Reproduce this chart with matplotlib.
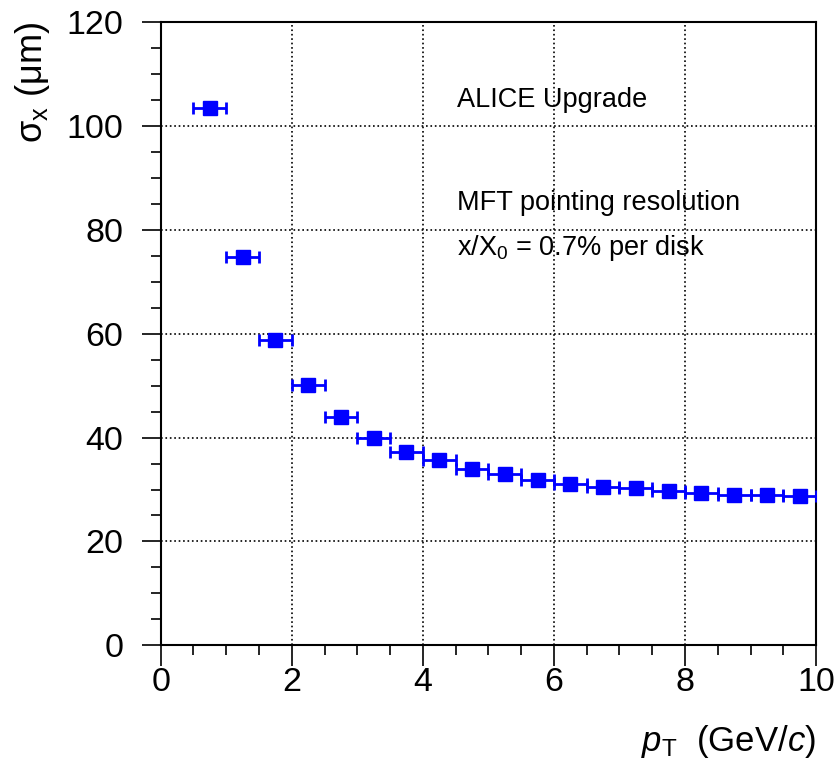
import numpy as np
import matplotlib
matplotlib.use('Agg')
import matplotlib.pyplot as plt
from matplotlib.ticker import MultipleLocator

plt.rcParams['font.family'] = ['Liberation Sans', 'DejaVu Sans']
plt.rcParams['mathtext.fontset'] = 'custom'
plt.rcParams['mathtext.rm'] = 'Liberation Sans'
plt.rcParams['mathtext.it'] = 'Liberation Sans:italic'

# pT bin centres (GeV/c) and half widths
pt = [0.75, 1.25, 1.75, 2.25, 2.75, 3.25, 3.75, 4.25, 4.75, 5.25,
      5.75, 6.25, 6.75, 7.25, 7.75, 8.25, 8.75, 9.25, 9.75]
pt_err = [0.25] * len(pt)
# pointing resolution sigma_x (um)
sigma_x = [103.5, 74.7, 58.8, 50.1, 43.9, 39.9, 37.3, 35.6, 33.9, 32.9,
           31.9, 31.0, 30.5, 30.2, 29.8, 29.4, 29.0, 28.9, 28.8]

fig = plt.figure(figsize=(8.37, 7.7), dpi=100)
ax = fig.add_axes([0.192, 0.162, 0.783, 0.809])

ax.errorbar(pt, sigma_x, xerr=pt_err, fmt='s', color='blue', ms=10,
            elinewidth=2, capsize=4, capthick=2, zorder=3)

ax.set_xlim(0, 10)
ax.set_ylim(0, 120)
ax.xaxis.set_major_locator(MultipleLocator(2))
ax.xaxis.set_minor_locator(MultipleLocator(0.5))
ax.yaxis.set_major_locator(MultipleLocator(20))
ax.yaxis.set_minor_locator(MultipleLocator(5))
ax.tick_params(which='both', direction='out', labelsize=24.5, width=1.2,
               top=False, right=False)
ax.tick_params(axis='x', which='major', length=15, pad=1)
ax.tick_params(axis='y', which='major', length=14, pad=13)
ax.tick_params(which='minor', length=7)
ax.grid(True, which='major', linestyle=':', color='black', lw=1.2)
for s in ax.spines.values():
    s.set_linewidth(1.5)

ax.set_ylabel('σ$_{\\mathrm{x}}$ (μm)', fontsize=26, loc='top')
ax.yaxis.set_label_coords(-0.166, 1.0)
ax.set_xlabel(r'$p_{\mathrm{T}}$  (GeV/$c$)', fontsize=25, loc='right')
ax.xaxis.set_label_coords(1.0, -0.125)

ax.text(4.52, 103.7, 'ALICE Upgrade', fontsize=19.5)
ax.text(4.52, 83.8, 'MFT pointing resolution', fontsize=19.5)
ax.text(4.52, 75.2, r'x/X$_{0}$ = 0.7% per disk', fontsize=19.5)

fig.savefig('out.png', dpi=100)
